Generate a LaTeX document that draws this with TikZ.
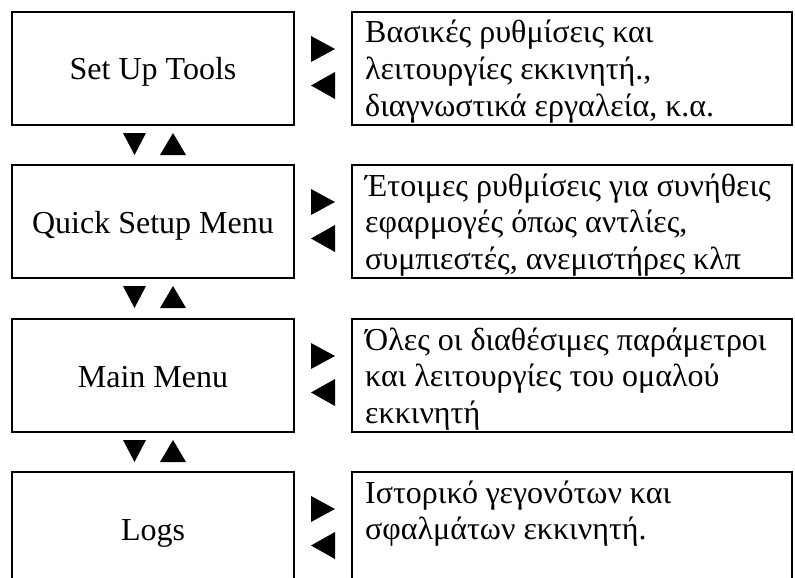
\documentclass[tikz,border=0pt]{standalone}
\usepackage{fontspec}
\setmainfont{Liberation Serif}
\usetikzlibrary{calc}
\tikzset{
  menubox/.style={draw, line width=2pt, minimum width=282pt, minimum height=113pt,
    inner sep=0pt, text height=28.5pt, text depth=5.5pt, font=\fontsize{32}{36.8}\selectfont},
  infobox/.style={draw, line width=2pt, minimum width=440pt, minimum height=113pt, inner sep=0pt},
  infotext/.style={anchor=base west, inner sep=0pt, font=\fontsize{32}{36.8}\selectfont},
  tri/.style={fill=black}
}
\newcommand{\infolines}[1]{\vtop{\baselineskip=36.8pt\lineskiplimit=-20pt #1}}
\begin{document}
\begin{tikzpicture}[x=1pt,y=-1pt]
\clip (0,0) rectangle (795,578);
\fill[white] (0,0) rectangle (795,578);
% left boxes
\node[menubox] (m1) at (153,68.5) {Set Up Tools};
\node[menubox] (m2) at (153,221.5) {Quick Setup Menu};
\node[menubox] (m3) at (153,375.5) {Main Menu};
\node[menubox] (m4) at (153,528.5) {Logs};
% right boxes
\node[infobox] (i1) at (572,68.5) {};
\node[infobox] (i2) at (572,221.5) {};
\node[infobox] (i3) at (572,375.5) {};
\node[infobox] (i4) at (572,528.5) {};
% texts
\node[infotext] (t1) at ($(i1.north west)+(14,32)$) {\infolines{\hbox{Βασικές ρυθμίσεις και}\hbox{λειτουργίες εκκινητή.,}\hbox{διαγνωστικά εργαλεία, κ.α.}}};
\node[infotext] (t2) at ($(i2.north west)+(14,32)$) {\infolines{\hbox{Έτοιμες ρυθμίσεις για συνήθεις}\hbox{εφαρμογές όπως αντλίες,}\hbox{συμπιεστές, ανεμιστήρες κλπ}}};
\node[infotext] (t3) at ($(i3.north west)+(14,32)$) {\infolines{\hbox{Όλες οι διαθέσιμες παράμετροι}\hbox{και λειτουργίες του ομαλού}\hbox{εκκινητή}}};
\node[infotext] (t4) at ($(i4.north west)+(14,32)$) {\infolines{\hbox{Ιστορικό γεγονότων και}\hbox{σφαλμάτων εκκινητή.}}};
% horizontal arrow pairs
\foreach \m in {m1,m2,m3,m4}{
  \coordinate (ne) at (\m.north east);
  \fill[tri] ($(ne)+(16,25)$) -- ($(ne)+(40,38)$) -- ($(ne)+(16,51)$) -- cycle;
  \fill[tri] ($(ne)+(40,61)$) -- ($(ne)+(16,74.5)$) -- ($(ne)+(40,88)$) -- cycle;
}
% vertical arrow pairs
\foreach \m in {m1,m2,m3}{
  \coordinate (sw) at (\m.south west);
  \fill[tri] ($(sw)+(112,7)$) -- ($(sw)+(135,7)$) -- ($(sw)+(123.5,29)$) -- cycle;
  \fill[tri] ($(sw)+(149,29)$) -- ($(sw)+(175,29)$) -- ($(sw)+(162,7)$) -- cycle;
}
\end{tikzpicture}
\end{document}
